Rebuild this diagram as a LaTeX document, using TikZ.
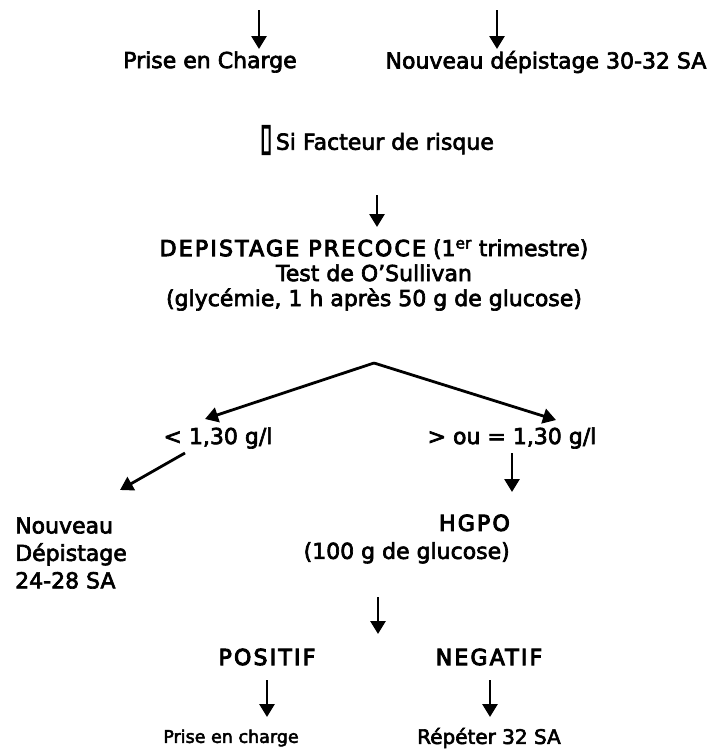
\documentclass[tikz,border=0pt]{standalone}
\usepackage{fontspec}
\setmainfont{DejaVu Sans}[FakeBold=3]
\newfontfamily\capsfont{DejaVu Sans}[FakeBold=4.5,LetterSpace=10]
\newfontfamily\boxfont{DejaVu Sans}[FakeBold=4]
\usetikzlibrary{arrows.meta,calc}
\begin{document}
\begin{tikzpicture}[x=1pt,y=-1pt,
  txt/.style={inner sep=0pt,font=\fontsize{22}{25}\selectfont},
  small/.style={inner sep=0pt,font=\fontsize{17.5}{20}\selectfont},
  arr/.style={line width=2.8pt,-{Triangle[width=15pt,length=13pt]}}]
\useasboundingbox (0,0) rectangle (713,753);
% top row
\coordinate (t1) at (259,10);
\coordinate (t2) at (497,10);
\node[txt] (pec) at (210,62) {Prise en Charge};
\node[txt] (nd) at (546,62) {Nouveau dépistage 30-32 SA};
\draw[arr] (t1) -- (259,49);
\draw[arr] (t2) -- (497,49);
% risk factor
\node[txt] (si) at (377,140) {\scalebox{1}[1.7]{\boxfont ▯}\,Si Facteur de risque};
\coordinate (t3) at (377,195);
\node[txt,align=center] (dp) at (374,275) {{\capsfont DEPISTAGE PRECOCE} (1\textsuperscript{er} trimestre)\\Test de O’Sullivan\\(glycémie, 1 h après 50 g de glucose)};
\draw[arr] (t3) -- (377,227);
% fork
\coordinate (apex) at (374,363);
\node[txt] (lt) at (218,438) {< 1,30 g/l};
\node[txt] (ge) at (512,438) {> ou = 1,30 g/l};
\draw[arr] (apex) -- (205,419);
\draw[arr] (apex) -- (556,420);
% second level
\node[txt,align=left,anchor=west,font=\fontsize{22}{27.5}\selectfont] (nv) at (15,553) {Nouveau\\Dépistage\\24-28 SA};
\node[txt,align=right,anchor=east,font=\fontsize{22}{28}\selectfont] (hg) at (510,539) {{\capsfont HGPO}\\(100 g de glucose)};
\draw[arr] (185,453) -- (120,490);
\draw[arr] (512,453) -- (512,492);
% results
\coordinate (t4) at (378,597);
\node[txt] (pos) at (267,657) {\capsfont POSITIF};
\node[txt] (neg) at (489,657) {\capsfont NEGATIF};
\draw[arr] (t4) -- (378,634);
\node[small] (pc) at (231,738) {Prise en charge};
\node[txt,font=\fontsize{20}{24}\selectfont] (rep) at (489,738) {Répéter 32 SA};
\draw[arr] (267,680) -- (267,717);
\draw[arr] (490,680) -- (490,717);
\end{tikzpicture}
\end{document}
